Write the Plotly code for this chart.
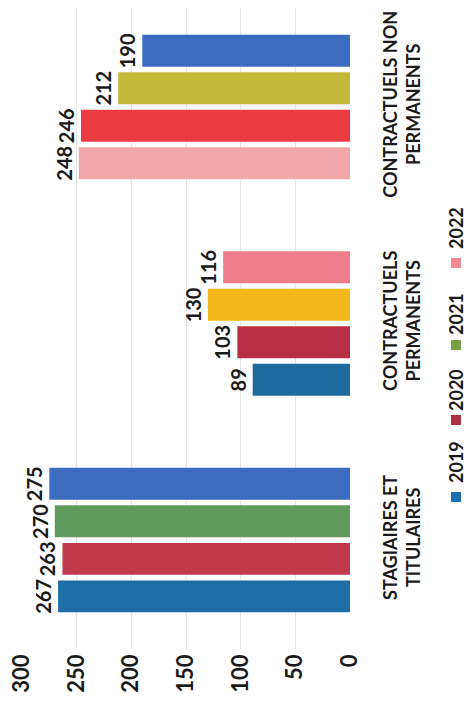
import plotly.graph_objects as go

categories = ["STAGIAIRES ET<br>TITULAIRES", "CONTRACTUELS<br>PERMANENTS", "CONTRACTUELS NON<br>PERMANENTS"]
years = ["2019", "2020", "2021", "2022"]
values = {
    "2019": [267, 89, 248],
    "2020": [263, 103, 246],
    "2021": [270, 130, 212],
    "2022": [275, 116, 190],
}
bar_colors = {
    "2019": ["#1f6ea8", "#1e6a9e", "#f4a7a8"],
    "2020": ["#c13a4c", "#b72f42", "#ec3b43"],
    "2021": ["#5f9a5c", "#f4b81c", "#c4b83a"],
    "2022": ["#3a6cc0", "#f07e8a", "#3a6dc2"],
}
legend_colors = {"2019": "#1a6fb0", "2020": "#b0303f", "2021": "#7a9e48", "2022": "#f28a94"}
value_ticks = [0, 50, 100, 150, 200, 250, 300]

# page body has an 8px margin, so the figure is drawn 8px smaller
W, H = 464, 695
ML, MR, MT, MB = 14, 122, 0, 54
PW, PH = W - ML - MR, H - MT - MB
FONT = "Lato"
OFF = 8

def px_x(px):
    return (px - OFF - ML) / PW

def px_y(py):
    return (H - MB - (py - OFF)) / PH

fig = go.Figure()
for yr in years:
    fig.add_trace(go.Bar(
        y=categories, x=values[yr], orientation="h", name=yr,
        marker=dict(color=bar_colors[yr], line=dict(width=0)),
        text=values[yr], textposition="outside", textangle=-90,
        constraintext="none", cliponaxis=False,
        textfont=dict(family=FONT, size=20, color="#1a1a1a", weight="bold"),
        showlegend=False,
    ))

# rotated legend drawn as annotations + squares
leg_text_y = [462, 390, 314, 228]
leg_sq_y = [497, 420, 345, 263]
shapes = []
annotations = []
for yr, ty, sy in zip(years, leg_text_y, leg_sq_y):
    annotations.append(dict(
        x=px_x(456), y=px_y(ty), xref="paper", yref="paper", text=yr,
        textangle=-90, showarrow=False, xanchor="center", yanchor="middle",
        font=dict(family=FONT, size=18, color="#1a1a1a", weight="bold"),
    ))
    shapes.append(dict(
        type="rect", xref="paper", yref="paper",
        x0=px_x(451), x1=px_x(461), y0=px_y(sy + 5), y1=px_y(sy - 5),
        fillcolor=legend_colors[yr], line=dict(width=0),
    ))

fig.update_layout(
    width=W, height=H,
    margin=dict(l=ML, r=MR, t=MT, b=MB, autoexpand=False),
    paper_bgcolor="white", plot_bgcolor="white",
    barmode="group", bargap=0.307, bargroupgap=0.15,
    font=dict(family=FONT, color="#1a1a1a"),
    xaxis=dict(
        range=[300, 0], tickvals=value_ticks, tickangle=-90,
        showgrid=True, gridcolor="#e6e6e6", gridwidth=1, zeroline=False,
        showline=False, ticks="", automargin=False, ticklabeloverflow="allow",
        tickfont=dict(family=FONT, size=22, color="#1a1a1a", weight="bold"),
    ),
    yaxis=dict(
        side="right", tickangle=-90, showgrid=False, showline=False, ticks="",
        range=[-0.503, 2.457], ticklabelstandoff=28, automargin=False,
        ticklabeloverflow="allow",
        tickfont=dict(family=FONT, size=18, color="#1a1a1a", weight="bold"),
    ),
    shapes=shapes, annotations=annotations,
)

fig.write_html("out.html")
